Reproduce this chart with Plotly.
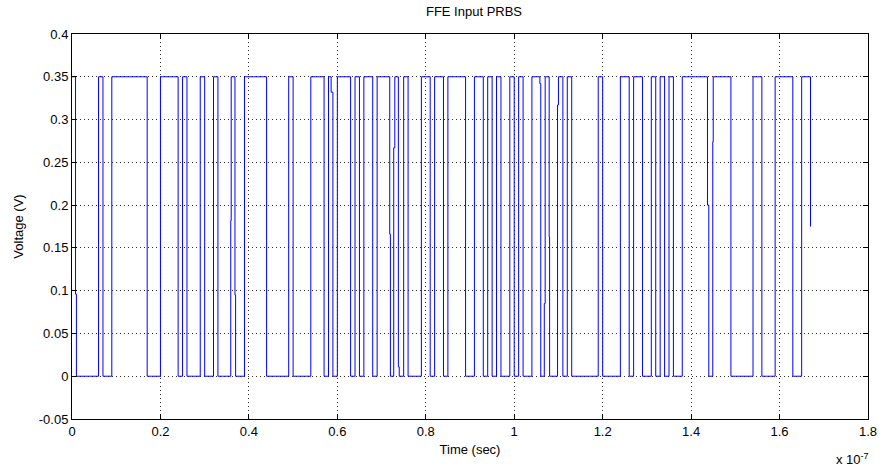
import plotly.graph_objects as go

# ---- data ----
bit_period_ns = 1.0
high_level = 0.35
bits_str = ("1" "00000" "1" "00" "11111111" "000" "1111" "0" "1" "000" "1" "00" "1" "000" "1" "00"
            "11111" "00000" "1" "0000" "111" "0" "1" "0" "111" "0" "1" "0" "11" "0" "111" "0" "1" "0" "1"
            "000" "11" "0" "11" "0" "1111" "00" "11" "0" "1" "0" "1" "00" "1" "0" "1" "00" "11" "0" "1"
            "00" "1" "0" "1" "000000" "1" "0000" "11" "0" "11" "00" "1" "0" "1" "0" "1" "00" "111111" "0"
            "1111" "00000" "11" "000" "1111" "00" "11")
bits = [int(c) for c in bits_str]

# intermediate samples seen at some transitions (time in ns, voltage)
glitch_t = [0.8, 35.9, 36.85, 58.6, 71.85, 72.75, 73.8, 105.8, 106.8, 107.9, 109.8, 143.7, 144.9]
glitch_v = [0.096, 0.182, 0.095, 0.332, 0.166, 0.267, 0.011, 0.342, 0.085, 0.163, 0.317, 0.200, 0.274]

end_t = 167.0
end_v = 0.175

x_ticks = [0, 0.2, 0.4, 0.6, 0.8, 1.0, 1.2, 1.4, 1.6, 1.8]
x_ticklabels = ["0", "0.2", "0.4", "0.6", "0.8", "1", "1.2", "1.4", "1.6", "1.8"]
y_ticks = [-0.05, 0, 0.05, 0.1, 0.15, 0.2, 0.25, 0.3, 0.35, 0.4]
y_ticklabels = ["-0.05", "0", "0.05", "0.1", "0.15", "0.2", "0.25", "0.3", "0.35", "0.4"]

# ---- build waveform ----
pts = {k * bit_period_ns: high_level * b for k, b in enumerate(bits)}
for t, v in zip(glitch_t, glitch_v):
    pts[t] = v
pts[end_t] = end_v
ts = sorted(pts)
x_sec = [t * 1e-9 for t in ts]
y_val = [pts[t] for t in ts]

fig = go.Figure()
fig.add_trace(go.Scatter(x=x_sec, y=y_val, mode="lines", line=dict(color="#0000ff", width=1, shape="hv"),
                         hoverinfo="skip", showlegend=False))

font = "Liberation Sans, Arial, Helvetica, sans-serif"
axis_common = dict(showline=True, linecolor="black", linewidth=1, mirror="ticks", ticks="inside",
                   ticklen=5, tickcolor="black", showgrid=True, gridcolor="#333333", gridwidth=1,
                   griddash="1px,3px", zeroline=False, tickfont=dict(family=font, size=13, color="black"))

fig.update_layout(
    width=889, height=469,
    margin=dict(l=72, r=13, t=34, b=50),
    paper_bgcolor="white", plot_bgcolor="white",
    title=dict(text="FFE Input PRBS", x=(72 + 876) / 2 / 889, xanchor="center", y=1 - 11 / 469,
               yanchor="middle", font=dict(family=font, size=13, color="black")),
    xaxis=dict(range=[0, 1.8e-7], tickvals=[v * 1e-7 for v in x_ticks], ticktext=x_ticklabels,
               title=dict(text="Time (sec)", font=dict(family=font, size=13, color="black"), standoff=7),
               **axis_common),
    yaxis=dict(range=[-0.05, 0.4], tickvals=y_ticks, ticktext=y_ticklabels,
               title=dict(text="Voltage (V)", font=dict(family=font, size=13, color="black"), standoff=12),
               **axis_common),
)
fig.add_annotation(text="x 10<sup>-7</sup>", xref="paper", yref="paper", x=0.98, y=-0.105,
                   xanchor="center", yanchor="middle", showarrow=False,
                   font=dict(family=font, size=13, color="black"))

fig.write_html("out.html")
